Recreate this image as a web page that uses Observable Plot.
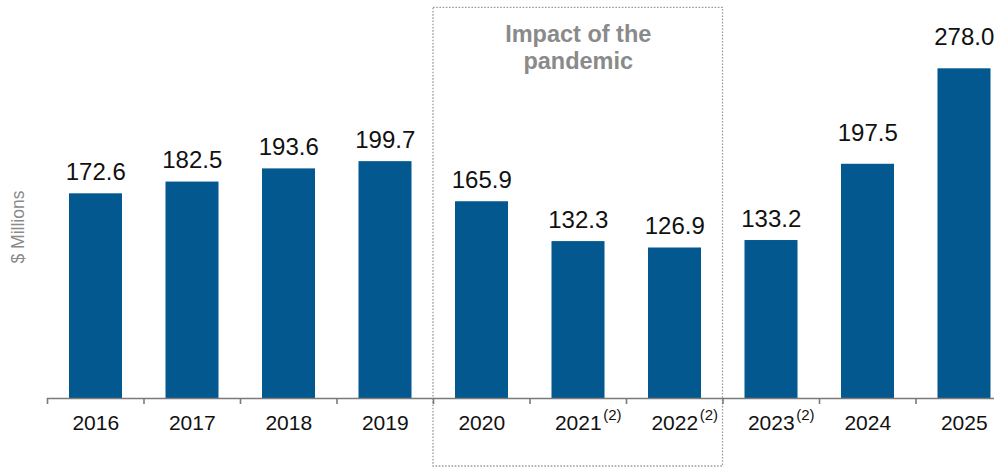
<!DOCTYPE html>
<html>
<head>
<meta charset="utf-8">
<script src="https://cdn.jsdelivr.net/npm/d3@7"></script>
<script src="https://cdn.jsdelivr.net/npm/@observablehq/plot@0.6"></script>
<style>
  html, body { margin: 0; padding: 0; background: #fff; overflow: hidden; }
  svg { display: block; }
</style>
</head>
<body>
<div id="chart"></div>
<script>
// Revenue by year, $ millions
const years = ["2016", "2017", "2018", "2019", "2020", "2021", "2022", "2023", "2024", "2025"];
const revenue = [172.6, 182.5, 193.6, 199.7, 165.9, 132.3, 126.9, 133.2, 197.5, 278.0];
const footnotes = ["", "", "", "", "", "(2)", "(2)", "(2)", "", ""];
const pandemicYears = ["2020", "2022"];
const pandemicLabel = "Impact of the\npandemic";
const yLabel = "$ Millions";

const data = years.map((year, i) => ({i, year, value: revenue[i], note: footnotes[i]}));
const spanStart = years.indexOf(pandemicYears[0]);
const spanEnd = years.indexOf(pandemicYears[1]) + 1;
const maxValue = d3.max(revenue);

const font = "'Liberation Sans', Arial, Helvetica, sans-serif";
const barColor = "#02588f";
const grey = "#8a8a8a";

const chart = Plot.plot({
  width: 994,
  height: 467,
  marginTop: 0,
  marginLeft: 47,
  marginRight: 0,
  marginBottom: 69,
  style: {fontFamily: font, background: "#fff", overflow: "hidden"},
  x: {type: "linear", domain: [0, years.length], range: [47, 1012], axis: null},
  y: {domain: [0, maxValue], range: [398, 68.3], axis: null},
  marks: [
    // dotted frame around the pandemic years
    Plot.rect([{}], {
      x1: spanStart, x2: spanEnd, y1: 0, y2: maxValue,
      insetTop: -61, insetBottom: -68,
      fill: "none", stroke: "#9a9a9a", strokeWidth: 1.3, strokeDasharray: "1.6,1.6"
    }),
    Plot.text([pandemicLabel], {
      x: (spanStart + spanEnd) / 2, y: maxValue, dy: -22,
      text: d => d, fill: grey, fontSize: 23.5, fontWeight: "bold", lineHeight: 1.17
    }),
    Plot.rectY(data, {
      x1: "i", x2: d => d.i + 1, y: "value",
      insetLeft: 22, insetRight: 21.5, fill: barColor
    }),
    // value labels
    Plot.text(data, {
      x: d => d.i + 0.5, y: "value", text: d => d.value.toFixed(1),
      dy: -21.5, fontSize: 24, fill: "#111",
      filter: d => +d.year < 2024
    }),
    Plot.text(data, {
      x: d => d.i + 0.5, y: "value", text: d => d.value.toFixed(1),
      dy: -31, fontSize: 24, fill: "#111",
      filter: d => +d.year >= 2024
    }),
    // baseline and category boundary ticks
    Plot.ruleY([0], {x1: 0, x2: years.length, stroke: "#7a7a7a", strokeWidth: 1.6}),
    Plot.axisX({
      ticks: d3.range(years.length), tickSize: 6, tickFormat: () => "", label: null,
      stroke: "#7a7a7a", strokeWidth: 1.6, tickPadding: 0
    }),
    // year labels with footnote markers
    Plot.text(data, {
      x: d => d.i + 0.5, y: 0, dy: 25, text: "year", fontSize: 21, fill: "#111"
    }),
    Plot.text(data.filter(d => d.note), {
      x: d => d.i + 0.5, y: 0, dy: 17, dx: 25, text: "note",
      textAnchor: "start", fontSize: 15, fill: "#111"
    }),
    // vertical unit label, centred a little below the middle of the bars
    Plot.text([yLabel], {
      x: 0, y: maxValue * 0.52, dx: -29, rotate: -90,
      text: d => d, fontSize: 17.5, fill: grey
    })
  ]
});

document.getElementById("chart").append(chart);
</script>
</body>
</html>
